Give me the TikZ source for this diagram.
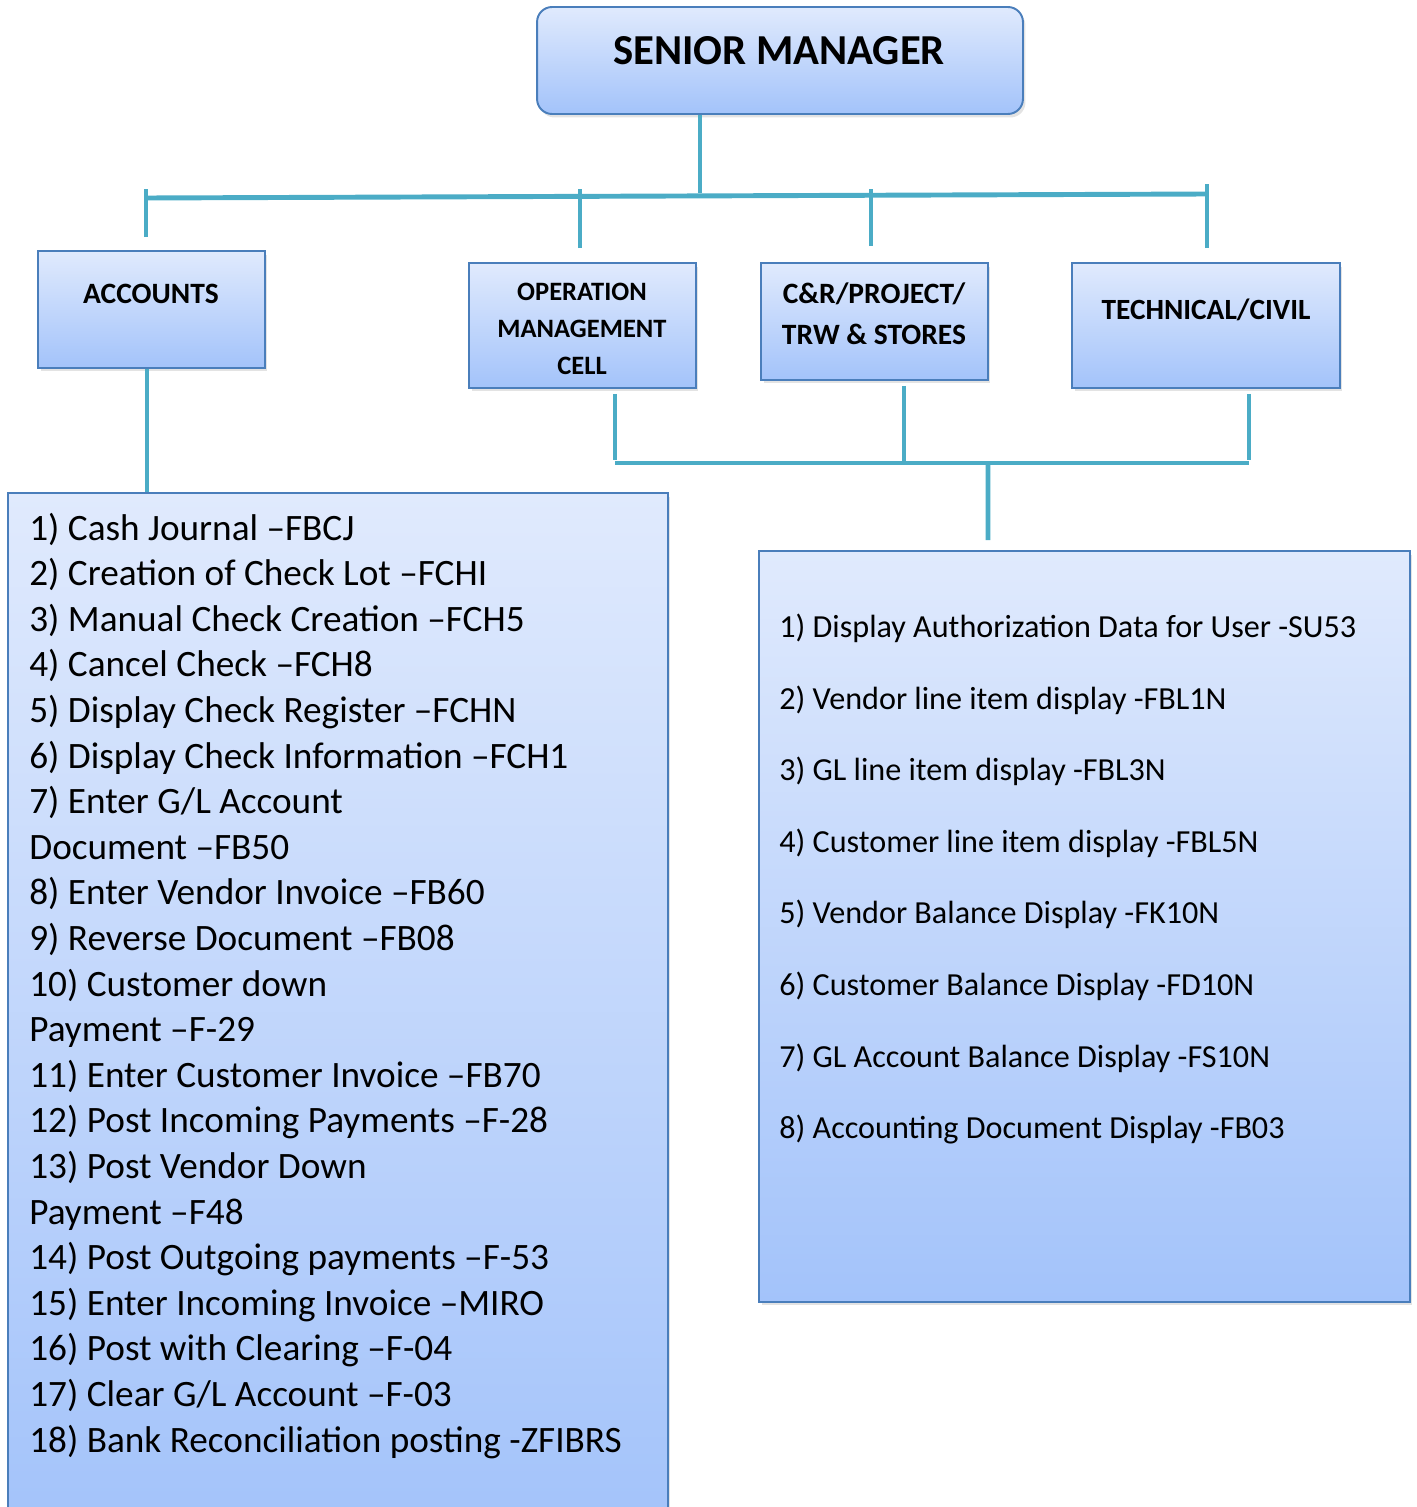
\documentclass[tikz,border=0pt]{standalone}
\usepackage{fontspec}
\setmainfont{Carlito}
\usetikzlibrary{shadows, positioning}
\definecolor{boxedge}{RGB}{74,126,187}
\definecolor{boxtop}{RGB}{224,234,253}
\definecolor{boxbot}{RGB}{163,195,250}
\definecolor{wireteal}{RGB}{75,172,198}
\tikzset{
  unitbox/.style={draw=boxedge, line width=1.1pt, top color=boxtop, bottom color=boxbot,
    drop shadow={shadow xshift=0.05cm, shadow yshift=-0.07cm, opacity=0.22}, inner sep=0pt},
  wire/.style={draw=wireteal, line width=2.8pt},
  head/.style={inner sep=0pt, align=center, font=\bfseries\fontsize{16.8}{23.3}\selectfont},
  item/.style={anchor=base west, inner sep=0pt},
}

\begin{document}
\begin{tikzpicture}[x=0.02cm, y=-0.02cm]
	\useasboundingbox (0,0) rectangle (1416,1507);
	% boxes
	\node[unitbox, rounded corners=0.3cm, minimum width=9.72cm, minimum height=2.14cm] (sm) at (780,60.5) {};
	\node[head, font=\bfseries\fontsize{24.3}{28}\selectfont] (smtext) at (779,51) {SENIOR MANAGER};
	\node[unitbox, minimum width=4.54cm, minimum height=2.34cm] (acc) at (151.5,309.5) {};
	\node[head] (acctext) at (151,294) {ACCOUNTS};
	\node[unitbox, minimum width=4.54cm, minimum height=2.5cm] (omc) at (582.5,325.5) {};
	\node[head, font=\bfseries\fontsize{15.1}{21}\selectfont] (omctext) at (582,328.5) {OPERATION\\MANAGEMENT\\CELL};
	\node[unitbox, minimum width=4.54cm, minimum height=2.34cm] (cr) at (874.5,321.5) {};
	\node[head] (crtext) at (874,313.5) {C\&R/PROJECT/\\TRW \& STORES};
	\node[unitbox, minimum width=5.36cm, minimum height=2.5cm] (tech) at (1206,325.5) {};
	\node[head, font=\bfseries\fontsize{16.7}{18}\selectfont] (techtext) at (1206,310) {TECHNICAL/CIVIL};
	\node[unitbox, minimum width=13.2cm, minimum height=20.74cm] (accl) at (338,1011.5) {};
	\node[unitbox, minimum width=13.02cm, minimum height=15.02cm] (rl) at (1084.5,926.5) {};

	% upper bus
	\coordinate (busw) at (146,198);
	\coordinate (buse) at (1207,194);
	\draw[wire] ([xshift=-1.6cm]sm.south) -- ++(0,78);
	\draw[wire] (busw) -- (buse);
	\foreach \b/\dx/\gap/\len in {acc/-0.11/0.26/48, omc/-0.05/0.28/59, cr/-0.07/0.32/57, tech/0.02/0.28/64}
		\draw[wire] ([xshift=\dx cm, yshift=\gap cm]\b.north) -- ++(0,-\len);
	\draw[wire] ([xshift=-0.09cm]acc.south) -- ([xshift=-0.09cm]acc.south |- accl.north);

	% lower bus
	\coordinate (lbusw) at (615,463);
	\coordinate (lbuse) at (1249,463);
	\coordinate (drop) at (988,463);
	\draw[wire] (lbusw) -- (lbuse);
	\foreach \b/\dx/\len in {omc/0.65/66, cr/0.59/76, tech/0.86/66}
		\draw[wire] ([xshift=\dx cm, yshift=-0.1cm]\b.south) -- ++(0,\len);
	\draw[wire] (drop) -- ([xshift=-1.93cm, yshift=0.2cm]rl.north);

	% transaction lists
	\foreach \txt [count=\i] in {1) Cash Journal –FBCJ, 2) Creation of Check Lot –FCHI,
		3) Manual Check Creation –FCH5, 4) Cancel Check –FCH8, 5) Display Check Register –FCHN,
		6) Display Check Information –FCH1, 7) Enter G/L Account, Document –FB50,
		8) Enter Vendor Invoice –FB60, 9) Reverse Document –FB08, 10) Customer down,
		Payment –F-29, 11) Enter Customer Invoice –FB70, 12) Post Incoming Payments –F-28,
		13) Post Vendor Down, Payment –F48, 14) Post Outgoing payments –F-53,
		15) Enter Incoming Invoice –MIRO, 16) Post with Clearing –F-04,
		17) Clear G/L Account –F-03, 18) Bank Reconciliation posting -ZFIBRS}
		\node[item, font=\fontsize{21.2}{24}\selectfont] (acci\i) at (29,{540+45.6*(\i-1)}) {\txt};
	\foreach \txt [count=\i] in {1) Display Authorization Data for User -SU53,
		2) Vendor line item display -FBL1N, 3) GL line item display -FBL3N,
		4) Customer line item display -FBL5N, 5) Vendor Balance Display -FK10N,
		6) Customer Balance Display -FD10N, 7) GL Account Balance Display -FS10N,
		8) Accounting Document Display -FB03}
		\node[item, font=\fontsize{18.3}{21}\selectfont] (rli\i) at (779,{637.5+71.6*(\i-1)}) {\txt};
\end{tikzpicture}
\end{document}
